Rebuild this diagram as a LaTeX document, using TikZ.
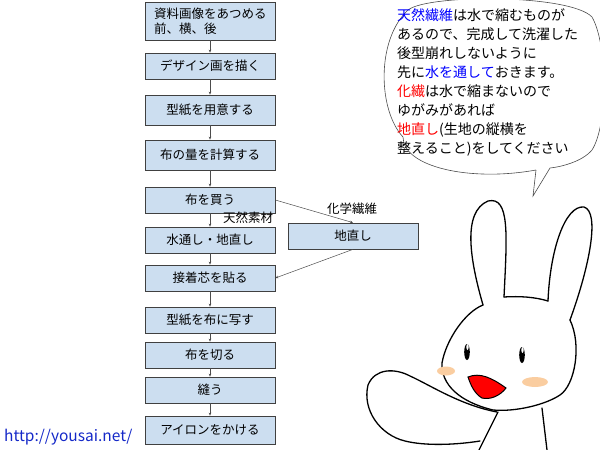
\documentclass[tikz,border=0pt]{standalone}
\usepackage{fontspec}
\setmainfont{Noto Sans CJK JP}
\usetikzlibrary{arrows.meta}
\definecolor{boxfill}{RGB}{204,222,240}
\definecolor{cheek}{RGB}{250,205,160}
\definecolor{urlblue}{RGB}{20,40,200}
\begin{document}
\begin{tikzpicture}[x=1pt,y=-1pt,
  stepbox/.style={draw=black!75,fill=boxfill,line width=0.7pt,minimum width=130pt,minimum height=26pt,font=\fontsize{12.5}{15}\selectfont,inner sep=2pt},
  conn/.style={draw=black!70,line width=0.5pt,-{Stealth[length=3pt,width=2.5pt]}},
  lbl/.style={font=\fontsize{12.5}{13}\selectfont},
  bub/.style={font=\fontsize{14}{19}\selectfont,align=left,anchor=north west,inner sep=0pt},
  rb/.style={line width=1.3pt,line cap=round,line join=round}]
\useasboundingbox (0,0) rectangle (600,450);
\node[stepbox,minimum height=38pt,align=left,text width=112pt] (b1) at (210,21) {資料画像をあつめる\\前、横、後};
\node[stepbox] (b2) at (210,66) {デザイン画を描く};
\node[stepbox,minimum height=30pt] (b3) at (210,110) {型紙を用意する};
\node[stepbox,minimum height=30pt] (b4) at (210,155) {布の量を計算する};
\node[stepbox] (b5) at (210,200) {布を買う};
\node[stepbox] (b6) at (210,240) {水通し・地直し};
\node[stepbox] (b7) at (210,278) {接着芯を貼る};
\node[stepbox] (b8) at (210,320) {型紙を布に写す};
\node[stepbox] (b9) at (210,355) {布を切る};
\node[stepbox] (b10) at (210,390) {縫う};
\node[stepbox,minimum height=28pt] (b11) at (210,430) {アイロンをかける};
\node[stepbox] (b12) at (353,236) {地直し};
\foreach \a/\b in {b1/b2,b2/b3,b3/b4,b4/b5,b5/b6,b6/b7,b7/b8,b8/b9,b9/b10,b10/b11}
  \draw[conn] (\a) -- (\b);
\draw[conn] (b5.east) -- (b12.north);
\draw[conn] (b12.south) -- (b7.east);
\node[lbl] (t1) at (248,218) {天然素材};
\node[lbl] (t2) at (352,209) {化学繊維};
\node[font=\fontsize{15.5}{17}\selectfont,text=urlblue,anchor=south west,inner sep=0pt] (url) at (4,445) {http://yousai.net/};
% bubble
\draw[line width=0.6pt,draw=black!70] (536,170) .. controls (470,182) and (403,167) .. (403,137)
  .. controls (378,110) and (376,40) .. (408,10)
  .. controls (428,-6) and (570,-6) .. (592,17)
  .. controls (608,45) and (608,125) .. (592,150)
  .. controls (582,162) and (560,167) .. (550,168)
  -- (533,196) -- (536,170);
\node[bub] (bt) at (397,8) {\textcolor{blue}{天然繊維}は水で縮むものが\\あるので、完成して洗濯した\\後型崩れしないように\\先に\textcolor{blue}{水を通して}おきます。\\\textcolor{red}{化繊}は水で縮まないので\\ゆがみがあれば\\\textcolor{red}{地直し}(生地の縦横を\\整えること)をしてください};
% rabbit ears
\draw[rb] (483,305) .. controls (470,260) and (462,212) .. (488,201) .. controls (510,196) and (507,235) .. (504,297);
\draw[rb] (504,297) .. controls (520,296) and (535,297) .. (548,301);
\draw[rb] (548,301) .. controls (550,250) and (565,205) .. (584,207) .. controls (600,212) and (590,265) .. (570,320);
% head
\draw[rb] (483,305) .. controls (465,312) and (446,340) .. (442,363)
  .. controls (441,385) and (460,402) .. (493,410)
  .. controls (515,412) and (545,405) .. (560,395)
  .. controls (575,385) and (582,345) .. (570,320);
% arm
\draw[rb] (497,412) .. controls (460,405) and (430,385) .. (410,376) .. controls (395,368) and (375,368) .. (368,385)
  .. controls (362,410) and (380,435) .. (405,441) .. controls (425,446) and (455,445) .. (480,441);
\draw[rb] (498,412) -- (479,450);
\draw[rb] (542,408) -- (547,450);
% eyes
\fill (467,352) ellipse (2.8pt and 8pt);
\fill (522,355) ellipse (2.8pt and 8pt);
\fill[white] (467.5,347) ellipse (1.2pt and 3pt);
\fill[white] (522.5,350) ellipse (1.2pt and 3pt);
% cheeks
\fill[cheek] (446,371) ellipse (9pt and 4.5pt);
\fill[cheek] (535,382) ellipse (13pt and 5pt);
% mouth
\draw[line width=1pt,fill=red] (468,377) .. controls (480,372) and (492,378) .. (506,388) .. controls (500,396) and (490,400) .. (482,398) .. controls (475,394) and (471,386) .. (468,377) -- cycle;
\end{tikzpicture}
\end{document}
